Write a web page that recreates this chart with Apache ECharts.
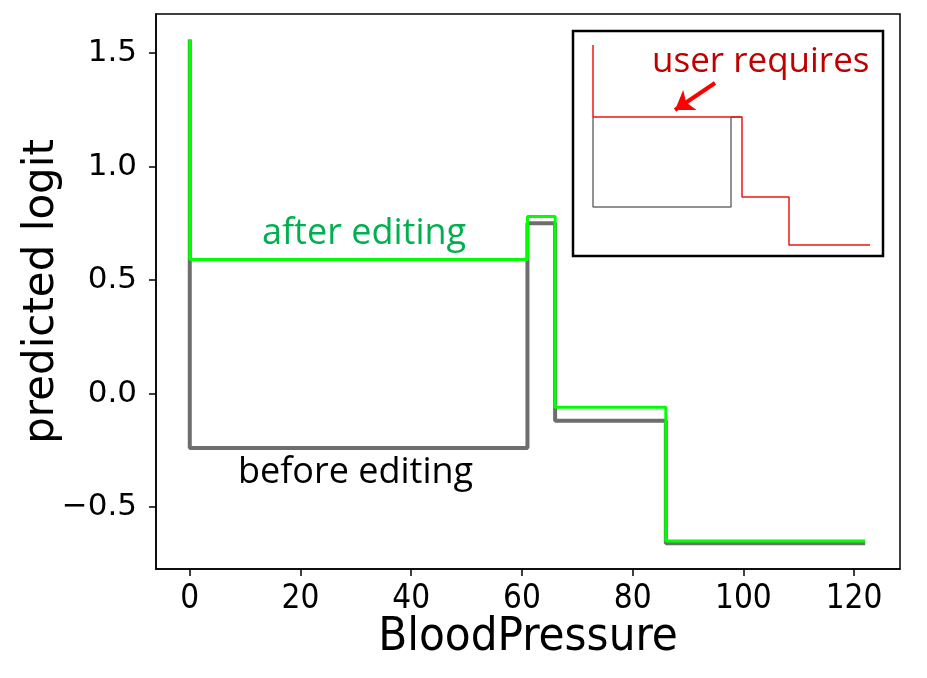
<!DOCTYPE html>
<html>
<head>
<meta charset="utf-8">
<script src="https://cdn.jsdelivr.net/npm/echarts@6/dist/echarts.min.js"></script>
<style>
  html, body { margin: 0; padding: 0; background: #fff; }
  #chart { width: 927px; height: 678px; }
</style>
</head>
<body>
<div id="chart"></div>
<script>
// 主图数据 (step 'end': 每个点的值保持到下一个点)
const bpX = [0, 0, 61, 66, 86, 122];
const beforeY = [1.56, -0.24, 0.75, -0.12, -0.66, -0.66];
const afterY = [1.56, 0.59, 0.78, -0.06, -0.65, -0.65];
const xTicks = [0, 20, 40, 60, 80, 100, 120];
const yTicks = [-0.5, 0, 0.5, 1.0, 1.5];

// 小图 (示意图) 数据
const insetRedX = [2, 2, 16.9, 21.6, 29.7];
const insetRedY = [21.1, 13.9, 5.9, 1.1, 1.1];
const insetGrayX = [2, 2, 15.8, 16.9];
const insetGrayY = [13.9, 4.9, 13.9, 13.9];
const arrowFrom = [14.2, 17.3];
const arrowTo = [10.2, 14.6];

const zip = (xs, ys) => xs.map((x, i) => [x, ys[i]]);

const chart = echarts.init(document.getElementById('chart'));
const option = {
  backgroundColor: '#fff',
  animation: false,
  grid: [
    {
      left: 156, right: 27, top: 14, bottom: 109,
      outerBoundsMode: 'none',
      containLabel: false,
      show: true, borderColor: '#000', borderWidth: 1.5,
    },
    {
      left: 573, top: 31, width: 310, height: 225,
      outerBoundsMode: 'none',
      show: true, borderColor: '#000', borderWidth: 2.5, backgroundColor: '#fff',
      z: 5,
    },
  ],
  xAxis: [
    {
      type: 'value',
      gridIndex: 0,
      min: -6.1,
      max: 128.3,
      name: 'BloodPressure',
      nameLocation: 'middle',
      nameGap: 45,
      nameMoveOverlap: false,
      nameTextStyle: { fontFamily: 'DejaVu Sans Condensed', fontSize: 47, color: '#000' },
      axisLine: { show: true, onZero: false, lineStyle: { color: '#000', width: 1.5 } },
      axisTick: { show: true, length: 7, lineStyle: { color: '#000', width: 1.5 }, customValues: xTicks },
      axisLabel: {
        customValues: xTicks,
        margin: 14,
        fontFamily: 'DejaVu Sans Condensed',
        fontSize: 33,
        color: '#000',
      },
      splitLine: { show: false },
    },
    {
      type: 'value', gridIndex: 1, min: 0, max: 31, show: false,
    },
  ],
  yAxis: [
    {
      type: 'value',
      gridIndex: 0,
      min: -0.773,
      max: 1.672,
      name: 'predicted logit',
      nameLocation: 'middle',
      nameGap: 93,
      nameMoveOverlap: false,
      nameRotate: 90,
      nameTextStyle: { fontFamily: 'DejaVu Sans', fontSize: 42, color: '#000' },
      axisLine: { show: true, onZero: false, lineStyle: { color: '#000', width: 1.5 } },
      axisTick: { show: true, length: 7, lineStyle: { color: '#000', width: 1.5 }, customValues: yTicks },
      axisLabel: {
        customValues: yTicks,
        margin: 19,
        fontFamily: 'DejaVu Sans',
        fontSize: 31,
        color: '#000',
        formatter: v => (v < 0 ? '\u2212' : '') + Math.abs(v).toFixed(1),
      },
      splitLine: { show: false },
    },
    {
      type: 'value', gridIndex: 1, min: 0, max: 22.5, show: false,
    },
  ],
  series: [
    {
      name: 'before editing',
      type: 'line',
      xAxisIndex: 0,
      yAxisIndex: 0,
      step: 'end',
      data: zip(bpX, beforeY),
      showSymbol: false,
      lineStyle: { color: '#6e6e6e', width: 4 },
      z: 2,
    },
    {
      name: 'after editing',
      type: 'line',
      xAxisIndex: 0,
      yAxisIndex: 0,
      step: 'end',
      data: zip(bpX, afterY),
      showSymbol: false,
      lineStyle: { color: '#00ff00', width: 3 },
      z: 3,
    },
    {
      name: 'inset before',
      type: 'line',
      xAxisIndex: 1,
      yAxisIndex: 1,
      step: 'end',
      data: zip(insetGrayX, insetGrayY),
      showSymbol: false,
      lineStyle: { color: '#6e6e6e', width: 1.5 },
      z: 6,
    },
    {
      name: 'inset after',
      type: 'line',
      xAxisIndex: 1,
      yAxisIndex: 1,
      step: 'end',
      data: zip(insetRedX, insetRedY),
      showSymbol: false,
      lineStyle: { color: '#f01414', width: 1.5 },
      z: 7,
      markLine: {
        silent: true,
        symbol: ['none', 'arrow'],
        symbolSize: 18,
        label: { show: false },
        lineStyle: { color: '#ff0000', width: 4, type: 'solid' },
        data: [[{ coord: arrowFrom }, { coord: arrowTo }]],
      },
    },
  ],
  graphic: [
    {
      type: 'text', left: 262, top: 216, z: 10,
      style: { text: 'after editing', fontFamily: 'Open Sans', fontSize: 36, fill: '#00b050' },
    },
    {
      type: 'text', left: 238, top: 455, z: 10,
      style: { text: 'before editing', fontFamily: 'Open Sans', fontSize: 36, fill: '#000' },
    },
    {
      type: 'text', left: 652, top: 45, z: 10,
      style: { text: 'user requires', fontFamily: 'Open Sans', fontSize: 35, fill: '#c00000' },
    },
  ],
};
chart.setOption(option);
window.addEventListener('resize', () => {
  chart.resize();
});
</script>
</body>
</html>
